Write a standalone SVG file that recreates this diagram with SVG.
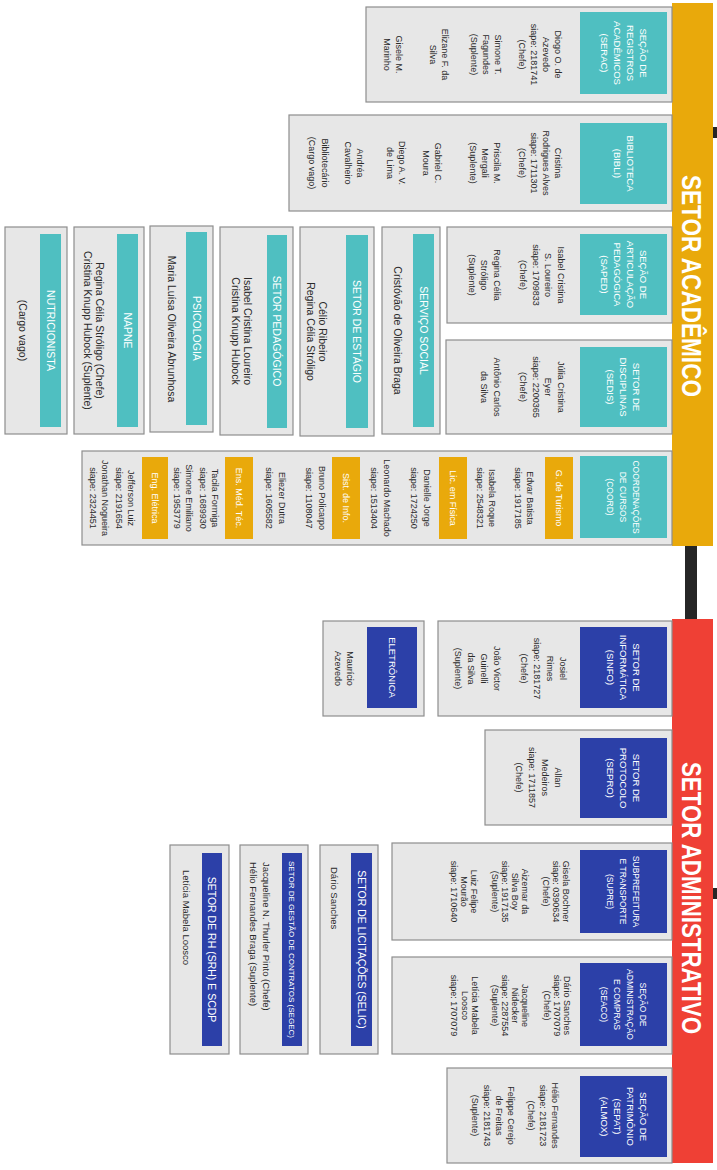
<svg xmlns="http://www.w3.org/2000/svg" width="717" height="1170" viewBox="0 0 717 1170">
<style>
.box{fill:#e7e7e7;stroke:#8e8e8e;stroke-width:1.2}
.teal{fill:#4fbfc1}
.blue{fill:#2c40a8}
.org{fill:#e9a90b}
.red{fill:#ef4035}
.blk{fill:#262626}
text{font-family:"Liberation Sans",Arial,sans-serif}
.hd{font-size:9.5px;fill:#fff;text-anchor:middle}
.hs{font-size:8.5px;fill:#fff;text-anchor:middle}
.h2{font-size:10.5px;fill:#fff;text-anchor:middle}
.bd{font-size:9px;fill:#2a2a2a;text-anchor:middle}
.b2{font-size:10.5px;fill:#2a2a2a;text-anchor:middle}
.bl{font-size:9.5px;fill:#2a2a2a;text-anchor:start}
.lb{font-size:9px;fill:#fff;text-anchor:middle}
.tt{font-size:28px;font-weight:bold;fill:#fff;text-anchor:middle}
</style>
<rect width="717" height="1170" fill="#ffffff"/>
<g transform="translate(717,0) rotate(90)">
<g id="connectors">
<rect class="blk" x="546" y="20" width="73" height="12"/>
<rect class="blk" x="127" y="0" width="11" height="5"/>
<rect class="blk" x="888" y="0" width="11" height="5"/>
</g>
<g id="setor-academico">
<rect class="org" x="3" y="4" width="543" height="41"/>
<text class="tt" x="286" y="35" textLength="222" lengthAdjust="spacingAndGlyphs">SETOR ACADÊMICO</text>
</g>
<g id="setor-administrativo">
<rect class="red" x="619" y="4" width="544" height="41"/>
<text class="tt" x="898" y="35" textLength="272" lengthAdjust="spacingAndGlyphs">SETOR ADMINISTRATIVO</text>
</g>

<g id="serac">
<rect class="box" x="7" y="45" width="95" height="306"/>
<rect class="teal" x="12" y="50" width="82" height="87"/>
<text class="hd" x="53" y="77.5">SEÇÃO DE</text>
<text class="hd" x="53" y="90.5">REGISTROS</text>
<text class="hd" x="53" y="103.5">ACADÊMICOS</text>
<text class="hd" x="53" y="116.5">(SERAC)</text>
<text class="bd" x="54.5" y="162">Diogo O. de</text>
<text class="bd" x="54.5" y="174">Azevedo</text>
<text class="bd" x="54.5" y="186">siape: 2181741</text>
<text class="bd" x="54.5" y="198">(Chefe)</text>
<text class="bd" x="54.5" y="222">Simone T.</text>
<text class="bd" x="54.5" y="234">Fagundes</text>
<text class="bd" x="54.5" y="246">(Suplente)</text>
<text class="bd" x="54.5" y="275">Elizane F. da</text>
<text class="bd" x="54.5" y="287">Silva</text>
<text class="bd" x="54.5" y="321">Gisele M.</text>
<text class="bd" x="54.5" y="333">Marinho</text>
</g>

<g id="bibli">
<rect class="box" x="115" y="45" width="96" height="383"/>
<rect class="teal" x="123" y="50" width="81" height="87"/>
<text class="hd" x="163.5" y="90.5">BIBLIOTECA</text>
<text class="hd" x="163.5" y="103.5">(BIBLI)</text>
<text class="bd" x="163" y="162">Cristina</text>
<text class="bd" x="163" y="174">Rodrigues Alves</text>
<text class="bd" x="163" y="186">siape: 1711301</text>
<text class="bd" x="163" y="198">(Chefe)</text>
<text class="bd" x="163" y="223">Priscila M.</text>
<text class="bd" x="163" y="235">Mergali</text>
<text class="bd" x="163" y="247">(Suplente)</text>
<text class="bd" x="163" y="282">Gabriel C.</text>
<text class="bd" x="163" y="294">Moura</text>
<text class="bd" x="163" y="318">Diego A. V.</text>
<text class="bd" x="163" y="330">de Lima</text>
<text class="bd" x="163" y="360">Andréa</text>
<text class="bd" x="163" y="372">Cavalheiro</text>
<text class="bd" x="163" y="395">Bibliotecário</text>
<text class="bd" x="163" y="408">(Cargo vago)</text>
</g>

<g id="saped">
<rect class="box" x="227" y="45" width="96" height="225"/>
<rect class="teal" x="234" y="50" width="81" height="87"/>
<text class="hd" x="274.5" y="77.5">SEÇÃO DE</text>
<text class="hd" x="274.5" y="90.5">ARTICULAÇÃO</text>
<text class="hd" x="274.5" y="103.5">PEDAGÓGICA</text>
<text class="hd" x="274.5" y="116.5">(SAPED)</text>
<text class="bd" x="275" y="159.5">Isabel Cristina</text>
<text class="bd" x="275" y="172">S. Loureiro</text>
<text class="bd" x="275" y="184.5">siape: 1709833</text>
<text class="bd" x="275" y="197">(Chefe)</text>
<text class="bd" x="275" y="223.5">Regina Célia</text>
<text class="bd" x="275" y="236">Stróligo</text>
<text class="bd" x="275" y="248.5">(Suplente)</text>
</g>

<g id="sedis">
<rect class="box" x="340" y="45" width="94" height="226"/>
<rect class="teal" x="347" y="50" width="80" height="87"/>
<text class="hd" x="387" y="84">SETOR DE</text>
<text class="hd" x="387" y="97">DISCIPLINAS</text>
<text class="hd" x="387" y="110">(SEDIS)</text>
<text class="bd" x="387" y="159.5">Júlia Cristina</text>
<text class="bd" x="387" y="172">Eyer</text>
<text class="bd" x="387" y="184.5">siape: 2200365</text>
<text class="bd" x="387" y="197">(Chefe)</text>
<text class="bd" x="387" y="223.5">Antônio Carlos</text>
<text class="bd" x="387" y="236">da Silva</text>
</g>

<g id="coord">
<rect class="box" x="451" y="45" width="94" height="590"/>
<rect class="teal" x="456" y="50" width="82" height="87"/>
<text class="hs" x="497" y="84">COORDENAÇÕES</text>
<text class="hs" x="497" y="97">DE CURSOS</text>
<text class="hs" x="497" y="110">(COORD)</text>
<rect class="org" x="457" y="144" width="82" height="28"/>
<text class="lb" x="498" y="161.2">G. de Turismo</text>
<text class="bd" x="498" y="190.3">Edvar Batista</text>
<text class="bd" x="498" y="202.3">siape: 1917185</text>
<text class="bd" x="498" y="228.3">Isabela Roque</text>
<text class="bd" x="498" y="240.3">siape: 2548321</text>
<rect class="org" x="457" y="250" width="82" height="28"/>
<text class="lb" x="498" y="267.2">Lic. em Física</text>
<text class="bd" x="498" y="293.3">Danielle Jorge</text>
<text class="bd" x="498" y="306.3">siape: 1724250</text>
<text class="bd" x="498" y="333.3">Leonardo Machado</text>
<text class="bd" x="498" y="346.3">siape: 1513404</text>
<rect class="org" x="457" y="357" width="82" height="28"/>
<text class="lb" x="498" y="374.2">Sist. de Info.</text>
<text class="bd" x="498" y="398.3">Bruno Policarpo</text>
<text class="bd" x="498" y="411.3">siape: 1108047</text>
<text class="bd" x="498" y="438.3">Eliezer Dutra</text>
<text class="bd" x="498" y="451.3">siape: 1605582</text>
<rect class="org" x="457" y="464" width="82" height="28"/>
<text class="lb" x="498" y="481.2">Ens. Méd. Téc.</text>
<text class="bd" x="498" y="505.3">Tacila Formiga</text>
<text class="bd" x="498" y="517.3">siape: 1689930</text>
<text class="bd" x="498" y="531.3">Simone Emiliano</text>
<text class="bd" x="498" y="543.3">siape: 1953779</text>
<rect class="org" x="457" y="549" width="82" height="26"/>
<text class="lb" x="498" y="565.2">Eng. Elétrica</text>
<text class="bd" x="498" y="589.3">Jefferson Luiz</text>
<text class="bd" x="498" y="601.3">siape: 2191654</text>
<text class="bd" x="498" y="615.3">Jonathan Nogueira</text>
<text class="bd" x="498" y="627.3">siape: 2324451</text>
</g>

<g id="servico-social">
<rect class="box" x="227" y="277" width="207" height="58"/>
<rect class="teal" x="234" y="283" width="193" height="21"/>
<text class="h2" x="330.5" y="297.2">SERVIÇO SOCIAL</text>
<text class="b2" x="330.5" y="322.7">Cristóvão de Oliveira Braga</text>
</g>

<g id="setor-estagio">
<rect class="box" x="227" y="343" width="209" height="74"/>
<rect class="teal" x="235" y="349" width="193" height="22"/>
<text class="h2" x="331.5" y="363.7">SETOR DE ESTÁGIO</text>
<text class="b2" x="331.5" y="397.7">Célio Ribeiro</text>
<text class="b2" x="331.5" y="409.7">Regina Célia Stróligo</text>
</g>

<g id="setor-pedagogico">
<rect class="box" x="227" y="424" width="208" height="73"/>
<rect class="teal" x="235" y="430" width="193" height="20"/>
<text class="h2" x="331" y="443.7">SETOR PEDAGÓGICO</text>
<text class="b2" x="331" y="472.7">Isabel Cristina Loureiro</text>
<text class="b2" x="331" y="484.7">Cristina Knupp Hubock</text>
</g>

<g id="psicologia">
<rect class="box" x="226" y="504" width="206" height="63"/>
<rect class="teal" x="232" y="510" width="193" height="21"/>
<text class="h2" x="328.5" y="524.2">PSICOLOGIA</text>
<text class="b2" x="329" y="548.7">Maria Luísa Oliveira Abrunhosa</text>
</g>

<g id="napne">
<rect class="box" x="227" y="573" width="207" height="70"/>
<rect class="teal" x="234" y="579" width="193" height="21"/>
<text class="h2" x="330.5" y="593.2">NAPNE</text>
<text class="b2" x="330.5" y="620.7">Regina Célia Stróligo (Chefe)</text>
<text class="b2" x="330.5" y="632.7">Cristina Knupp Hubock (Suplente)</text>
</g>

<g id="nutricionista">
<rect class="box" x="227" y="650" width="207" height="62"/>
<rect class="teal" x="234" y="656" width="193" height="21"/>
<text class="h2" x="330.5" y="670.2">NUTRICIONISTA</text>
<text class="b2" x="330.5" y="697.7">(Cargo vago)</text>
</g>

<g id="sinfo">
<rect class="box" x="621" y="45" width="95" height="234"/>
<rect class="blue" x="627" y="50" width="81" height="87"/>
<text class="hd" x="667.5" y="84">SETOR DE</text>
<text class="hd" x="667.5" y="97">INFORMÁTICA</text>
<text class="hd" x="667.5" y="110">(SINFO)</text>
<text class="bd" x="668.5" y="157.3">Josiel</text>
<text class="bd" x="668.5" y="170.3">Rimes</text>
<text class="bd" x="668.5" y="183.3">siape: 2181727</text>
<text class="bd" x="668.5" y="196.3">(Chefe)</text>
<text class="bd" x="668.5" y="223.3">João Victor</text>
<text class="bd" x="668.5" y="236.3">Guinelli</text>
<text class="bd" x="668.5" y="249.3">da Silva</text>
<text class="bd" x="668.5" y="262.3">(Suplente)</text>
</g>

<g id="eletronica">
<rect class="box" x="621" y="293" width="95" height="101"/>
<rect class="blue" x="627" y="300" width="81" height="50"/>
<text class="hd" x="667.5" y="328.5">ELETRÔNICA</text>
<text class="bd" x="668.5" y="370.3">Maurício</text>
<text class="bd" x="668.5" y="382.3">Azevedo</text>
</g>

<g id="sepro">
<rect class="box" x="730" y="45" width="95" height="187"/>
<rect class="blue" x="738" y="50" width="80" height="87"/>
<text class="hd" x="778" y="84">SETOR DE</text>
<text class="hd" x="778" y="97">PROTOCOLO</text>
<text class="hd" x="778" y="110">(SEPRO)</text>
<text class="bd" x="777.5" y="162.3">Allan</text>
<text class="bd" x="777.5" y="175.3">Medeiros</text>
<text class="bd" x="777.5" y="188.3">siape: 1711857</text>
<text class="bd" x="777.5" y="201.3">(Chefe)</text>
</g>

<g id="supre">
<rect class="box" x="843" y="45" width="97" height="280"/>
<rect class="blue" x="850" y="50" width="83" height="87"/>
<text class="hs" x="891.5" y="84">SUBPREFEITURA</text>
<text class="hs" x="891.5" y="97">E TRANSPORTE</text>
<text class="hs" x="891.5" y="110">(SUPRE)</text>
<text class="bd" x="891.5" y="154.3">Gisela Bochner</text>
<text class="bd" x="891.5" y="164.3">siape: 0390634</text>
<text class="bd" x="891.5" y="174.3">(Chefe)</text>
<text class="bd" x="891.5" y="195.3">Aizemar da</text>
<text class="bd" x="891.5" y="205.3">Silva Boy</text>
<text class="bd" x="891.5" y="215.3">siape: 1917135</text>
<text class="bd" x="891.5" y="225.3">(Suplente)</text>
<text class="bd" x="891.5" y="246.3">Luiz Felipe</text>
<text class="bd" x="891.5" y="256.3">Mourão</text>
<text class="bd" x="891.5" y="266.3">siape: 1710640</text>
</g>

<g id="seaco">
<rect class="box" x="957" y="45" width="97" height="280"/>
<rect class="blue" x="963" y="50" width="83" height="87"/>
<text class="hs" x="1004.5" y="77.5">SEÇÃO DE</text>
<text class="hs" x="1004.5" y="90.5">ADMINISTRAÇÃO</text>
<text class="hs" x="1004.5" y="103.5">E COMPRAS</text>
<text class="hs" x="1004.5" y="116.5">(SEACO)</text>
<text class="bd" x="1005.5" y="153.3">Dário Sanches</text>
<text class="bd" x="1005.5" y="163.3">siape: 1707079</text>
<text class="bd" x="1005.5" y="173.3">(Chefe)</text>
<text class="bd" x="1005.5" y="195.3">Jacqueline</text>
<text class="bd" x="1005.5" y="205.3">Nidecker</text>
<text class="bd" x="1005.5" y="215.3">siape: 2287554</text>
<text class="bd" x="1005.5" y="225.3">(Suplente)</text>
<text class="bd" x="1005.5" y="245.3">Letícia Mabela</text>
<text class="bd" x="1005.5" y="255.3">Loosco</text>
<text class="bd" x="1005.5" y="266.3">siape: 1707079</text>
</g>

<g id="sepat">
<rect class="box" x="1068" y="45" width="95" height="225"/>
<rect class="blue" x="1076" y="50" width="81" height="87"/>
<text class="hd" x="1116.5" y="77.5">SEÇÃO DE</text>
<text class="hd" x="1116.5" y="90.5">PATRIMÔNIO</text>
<text class="hd" x="1116.5" y="103.5">(SEPAT)</text>
<text class="hd" x="1116.5" y="116.5">(ALMOX)</text>
<text class="bd" x="1115.5" y="165.3">Hélio Fernandes</text>
<text class="bd" x="1115.5" y="177.3">siape: 2181723</text>
<text class="bd" x="1115.5" y="189.3">(Chefe)</text>
<text class="bd" x="1115.5" y="209.3">Felippe Cerejo</text>
<text class="bd" x="1115.5" y="221.3">de Freitas</text>
<text class="bd" x="1115.5" y="233.3">siape: 2181743</text>
<text class="bd" x="1115.5" y="245.3">(Suplente)</text>
</g>

<g id="selic">
<rect class="box" x="845" y="339" width="209" height="58"/>
<rect class="blue" x="853" y="345" width="193" height="21"/>
<text class="h2" x="949.5" y="359.5">SETOR DE LICITAÇÕES (SELIC)</text>
<text class="bl" x="867" y="386.3">Dário Sanches</text>
</g>

<g id="segec">
<rect class="box" x="845" y="409" width="209" height="68"/>
<rect class="blue" x="853" y="415" width="193" height="20"/>
<text x="949.5" y="428" style="font-size:8px;fill:#fff;text-anchor:middle">SETOR DE GESTÃO DE CONTRATOS (SEGEC)</text>
<text class="bl" x="862" y="454.5">Jacqueline N. Thurler Pinto (Chefe)</text>
<text class="bl" x="862" y="467.5">Hélio Fernandes Braga (Suplente)</text>
</g>

<g id="srh">
<rect class="box" x="845" y="488" width="209" height="59"/>
<rect class="blue" x="853" y="495" width="193" height="20"/>
<text class="h2" x="949.5" y="509">SETOR DE RH (SRH) E SCDP</text>
<text class="bl" x="870" y="534.5">Letícia Mabela Loosco</text>
</g>
</g>
</svg>
